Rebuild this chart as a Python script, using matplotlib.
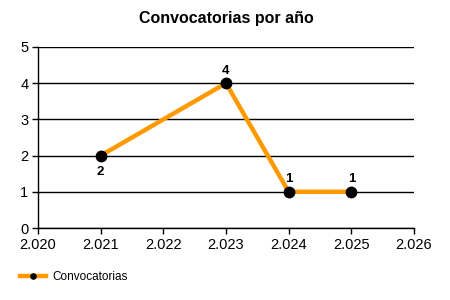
import matplotlib
matplotlib.use("Agg")
import matplotlib.pyplot as plt
from matplotlib.ticker import FuncFormatter

plt.rcParams['font.family'] = ['Liberation Sans', 'DejaVu Sans']

# datos
anios = [2021, 2023, 2024, 2025]
convocatorias = [2, 4, 1, 1]
serie = "Convocatorias"
titulo = "Convocatorias por año"
# posicion de la etiqueta de cada punto
pos_etiqueta = ["below", "above", "above", "above"]

fig = plt.figure(figsize=(4.5, 3), dpi=100)
ax = fig.add_axes([38/450, 1-228/300, (414-38)/450, (228-47)/300])

ax.plot(anios, convocatorias, color="#FF9900", lw=3.2, marker="o",
        markersize=7.5, markerfacecolor="black", markeredgecolor="black",
        label=serie, zorder=3)

for x, y, p in zip(anios, convocatorias, pos_etiqueta):
    dy = -12 if p == "below" else 9
    ax.annotate(str(y), (x, y), xytext=(0, dy), textcoords="offset points",
                ha="center", va="center", fontsize=9.5, fontweight="bold")

ax.set_xlim(2020, 2026)
ax.set_ylim(0, 5)
ax.set_xticks(range(2020, 2027))
ax.set_yticks(range(0, 6))
ax.xaxis.set_major_formatter(FuncFormatter(lambda v, p: f"{int(v):,}".replace(",", ".")))
ax.yaxis.grid(True, color="black", lw=1)
ax.set_axisbelow(True)
for s in ["top", "right"]:
    ax.spines[s].set_visible(False)
ax.spines["left"].set_linewidth(1)
ax.spines["bottom"].set_linewidth(1)
ax.tick_params(length=4, width=1, labelsize=10.5, pad=3)

ax.set_title(titulo, fontsize=11.5, fontweight="bold", pad=17)

leg = fig.legend(loc="lower left", bbox_to_anchor=(0.02, 0.02), frameon=False,
                 fontsize=8.5, handlelength=2.2, markerscale=0.5, handletextpad=0.6)

fig.savefig("out.png", dpi=100)
